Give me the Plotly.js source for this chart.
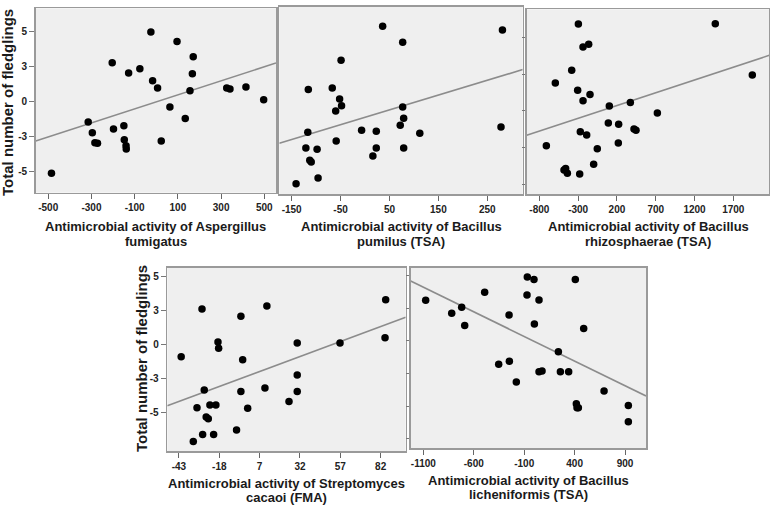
<!DOCTYPE html>
<html>
<head>
<meta charset="utf-8">
<script src="https://cdn.plot.ly/plotly-3.0.1.min.js"></script>
<style>html,body{margin:0;padding:0;background:#fff;}#chart{width:770px;height:513px;}</style>
</head>
<body>
<div id="chart"></div>
<script>
// ---- Data ----
const p1Title = ["Antimicrobial activity of Aspergillus", "fumigatus"];
const p1X = [-485,-315,-296,-284,-272,-204,-198,-150,-148,-140,-139,-128,-76,-25,-17,6,23,63,96,134,156,167,171,326,341,415,497];
const p1Y = [-5.14,-1.46,-2.22,-2.94,-2.99,2.80,-1.96,-1.72,-2.73,-3.16,-3.40,2.06,2.37,5.0,1.51,0.98,-2.82,-0.38,4.31,-1.20,0.79,2.01,3.23,0.98,0.91,1.05,0.14];
const p1Ticks = [-500,-300,-100,100,300,500];

const p2Title = ["Antimicrobial activity of Bacillus", "pumilus (TSA)"];
const p2X = [-141,-121,-117,-116,-113,-110,-98,-96,-67,-60,-59,-52,-49,-48,-7,16,23,23,36,72,77,77,79,79,112,278,281];
const p2Y = [-5.89,-3.33,-2.20,0.86,-4.21,-4.33,-3.42,-5.48,0.98,-0.67,-2.82,0.19,2.97,-0.29,-2.06,-3.90,-2.13,-3.33,5.41,-1.70,4.26,-0.38,-1.20,-3.33,-2.27,-1.82,5.14];
const p2Ticks = [-150,-50,50,150,250];

const p3Title = ["Antimicrobial activity of Bacillus", "rhizosphaerae (TSA)"];
const p3X = [-710,-594,-482,-461,-439,-383,-306,-297,-280,-272,-237,-237,-190,-164,-147,-100,-53,89,102,218,222,373,420,446,721,1468,1945];
const p3Y = [-2.39,1.89,-4.05,-3.95,-4.27,2.75,1.39,5.91,-4.32,-1.43,4.34,0.68,-1.66,4.52,1.11,-3.66,-2.59,-0.84,0.32,-2.20,-0.93,0.55,-1.25,-1.34,-0.16,5.93,2.43];
const p3Ticks = [-800,-300,200,700,1200,1700];

const p4Title = ["Antimicrobial activity of Streptomyces", "cacaoi (FMA)"];
const p4X = [-41.6,-34.1,-31.8,-28.7,-28.3,-27.3,-26.1,-24.8,-23.8,-21.5,-20.1,-18.8,-18.4,-7.3,-4.6,-4.6,-3.5,-0.4,10.3,11.5,25.2,30.3,30.3,30.3,56.8,84.7,85.1];
const p4Y = [-0.90,-7.10,-4.63,2.59,-6.59,-3.34,-5.32,-5.44,-4.44,-6.59,-4.44,0.17,-0.29,-6.27,2.05,-3.44,-1.12,-4.68,-3.20,2.80,-4.17,0.10,-2.24,-3.44,0.10,0.49,3.27];
const p4Ticks = [-43,-18,7,32,57,82];

const p5Title = ["Antimicrobial activity of Bacillus", "licheniformis (TSA)"];
const p5X = [-1077,-819,-720,-690,-492,-353,-250,-247,-178,-72,-69,-3,1,47,47,77,239,259,341,407,417,424,437,490,692,933,933];
const p5Y = [3.12,2.12,2.58,1.18,3.73,-1.79,1.99,-1.56,-3.15,3.53,4.91,4.71,1.30,3.15,-2.35,-2.30,-0.82,-2.35,-2.35,4.71,-4.81,-5.12,-5.12,0.95,-3.84,-4.94,-6.19];
const p5Ticks = [-1100,-600,-100,400,900];

// fit lines as drawn in the picture: intercept and slope per panel
const fitIntercept = [-0.01, -1.13, 0.00, -2.29, -0.03];
const fitSlope     = [0.00503, 0.01063, 0.001743, 0.04383, -0.00378];

const yTitle = "Total number of fledglings";
const yTickVals5 = [-5,-2.5,0,2.5,5];
const yTickVals6 = [-7.5,-5,-2.5,0,2.5,5];
const yTickText5 = ["-5","-3","0","3","5"];
const yTickText6 = ["-8","-5","-3","0","3","5"];

// ---- Layout geometry ----
const W = 770, H = 513;
const panels = [
  {x:p1X, y:p1Y, ticks:p1Ticks, title:p1Title, px:[35.7,276], py:[8.3,192.7], xr:[-558,554], yr:[-6.53,6.70], ylab:true, ytk:true, six:false, t1:226.7, t2:241.5},
  {x:p2X, y:p2Y, ticks:p2Ticks, title:p2Title, px:[279.3,522.7], py:[6.7,194], xr:[-175.3,322.4], yr:[-6.63,6.81], ylab:false, ytk:false, six:false, t1:226.7, t2:241.5},
  {x:p3X, y:p3Y, ticks:p3Ticks, title:p3Title, px:[526.7,769.3], py:[9.3,194], xr:[-963,2164], yr:[-5.68,6.91], ylab:false, ytk:true, six:false, t1:226.7, t2:241.5},
  {x:p4X, y:p4Y, ticks:p4Ticks, title:p4Title, px:[167.3,405.7], py:[267.7,451], xr:[-50.2,97.5], yr:[-7.80,5.61], ylab:true, ytk:true, six:false, t1:483.3, t2:497.8},
  {x:p5X, y:p5Y, ticks:p5Ticks, title:p5Title, px:[410.7,646], py:[267.7,448.3], xr:[-1225.6,1108], yr:[-8.23,5.62], ylab:false, ytk:true, six:true, t1:480, t2:494.5}
];

const fam = "'Liberation Sans Narrow','Arial Narrow','Liberation Sans',Arial,sans-serif";
const tickFont = {family:fam, size:10, color:'#222', weight:'bold'};
const titleFont = {family:fam, size:13, color:'#1a1a1a'};

const traces = [];
const layout = {
  width:W, height:H, margin:{l:0,r:0,t:0,b:0}, paper_bgcolor:'#ffffff', plot_bgcolor:'#efefef',
  showlegend:false, annotations:[]
};

panels.forEach((p, i) => {
  const k = i+1, suf = k===1 ? '' : String(k);
  const a = fitIntercept[i], b = fitSlope[i];
  traces.push({type:'scatter', mode:'lines', x:[p.xr[0], p.xr[1]], y:[a+b*p.xr[0], a+b*p.xr[1]],
    xaxis:'x'+suf, yaxis:'y'+suf, line:{color:'#8c8c8c', width:1.6}, hoverinfo:'skip'});
  traces.push({type:'scatter', mode:'markers', x:p.x, y:p.y, xaxis:'x'+suf, yaxis:'y'+suf,
    marker:{color:'#000', size:7.5}});
  layout['xaxis'+suf] = {
    domain:[p.px[0]/W, p.px[1]/W], range:p.xr, anchor:'y'+suf,
    showline:true, mirror:true, linecolor:'#9a9a9a', linewidth:1.6,
    showgrid:false, zeroline:false, ticks:'outside', ticklen:5, tickwidth:1, tickcolor:'#666',
    tickvals:p.ticks, ticktext:p.ticks.map(String), tickfont:tickFont, fixedrange:true
  };
  layout['yaxis'+suf] = {
    domain:[1-p.py[1]/H, 1-p.py[0]/H], range:p.yr, anchor:'x'+suf,
    showline:true, mirror:true, linecolor:'#9a9a9a', linewidth:1.6,
    showgrid:false, zeroline:false, ticks:p.ytk ? 'outside' : '', ticklen:p.ylab ? 5 : 3, tickwidth:1, tickcolor:'#777',
    tickvals:p.six ? yTickVals6 : yTickVals5, ticktext:p.six ? yTickText6 : yTickText5,
    showticklabels:p.ylab, tickfont:tickFont, fixedrange:true
  };
  const cx = (p.px[0]+p.px[1])/2/W;
  layout.annotations.push({xref:'paper', yref:'paper', x:cx, y:1-p.t1/H, xanchor:'center', yanchor:'middle',
    text:'<b>'+p.title[0]+'</b>', showarrow:false, font:titleFont});
  layout.annotations.push({xref:'paper', yref:'paper', x:cx, y:1-p.t2/H, xanchor:'center', yanchor:'middle',
    text:'<b>'+p.title[1]+'</b>', showarrow:false, font:titleFont});
});

// y-axis titles
layout.annotations.push({xref:'paper', yref:'paper', x:8/W, y:1-103/H, xanchor:'center', yanchor:'middle', textangle:-90,
  text:'<b>'+yTitle+'</b>', showarrow:false, font:{family:fam, size:15, color:'#1a1a1a'}});
layout.annotations.push({xref:'paper', yref:'paper', x:141/W, y:1-359/H, xanchor:'center', yanchor:'middle', textangle:-90,
  text:'<b>'+yTitle+'</b>', showarrow:false, font:{family:fam, size:15, color:'#1a1a1a'}});

Plotly.newPlot('chart', traces, layout, {staticPlot:true, displayModeBar:false});
</script>
</body>
</html>
